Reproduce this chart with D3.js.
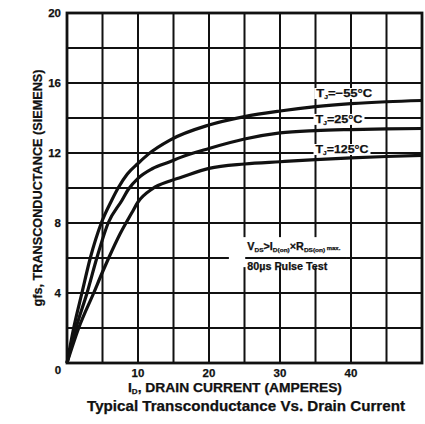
<!DOCTYPE html>
<html>
<head>
<meta charset="utf-8">
<script src="https://cdn.jsdelivr.net/npm/d3@7"></script>
<style>
  html, body { margin: 0; padding: 0; background: #fff; }
  svg { display: block; font-family: "Liberation Sans", Arial, Helvetica, sans-serif; font-weight: bold; }
  text { stroke: #111; stroke-width: 0.25px; }
</style>
</head>
<body>
<svg id="chart" width="425" height="424"></svg>
<script>
// ---- data ----
const xTickValues = [10, 20, 30, 40];
const yTickValues = [4, 8, 12, 16, 20];
const xGridValues = [5, 10, 15, 20, 25, 30, 35, 40, 45];
const yGridValues = [2, 4, 6, 8, 10, 12, 14, 16, 18];

const currentMinus55 = [0, 0.94, 2.1, 3.28, 4.83, 6.3, 7.2, 8.5, 10, 11.5, 14.5, 20, 25, 30, 35, 40, 45, 50];
const gfsMinus55     = [0, 2, 4, 6, 8, 9.3, 10, 10.8, 11.4, 11.95, 12.74, 13.6, 14.08, 14.4, 14.65, 14.82, 14.93, 15.0];

const current25 = [0, 1.27, 2.82, 4.2, 5.8, 7.75, 8.6, 10, 12, 14.5, 16, 20, 25, 30, 35, 40, 45, 50];
const gfs25     = [0, 2, 4, 6, 8, 9.3, 9.9, 10.55, 11.1, 11.5, 11.75, 12.26, 12.8, 13.15, 13.28, 13.34, 13.38, 13.4];

const current125 = [0, 1.65, 3.76, 5, 5.87, 7.5, 9.15, 10, 12, 14.5, 16, 20, 25, 30, 35, 40, 45, 50];
const gfs125     = [0, 2, 4, 5.2, 6, 7.4, 8.6, 9.2, 9.95, 10.4, 10.6, 11.12, 11.37, 11.5, 11.62, 11.72, 11.8, 11.86];

const seriesLabels = ["-55", "25", "125"];

// ---- layout ----
const svg = d3.select("#chart");
const plotL = 67, plotR = 422, plotT = 13, plotB = 363;
const x = d3.scaleLinear().domain([0, 50]).range([plotL, plotR]);
const y = d3.scaleLinear().domain([0, 20]).range([plotB, plotT]);
const ink = "#111";

// grid
svg.append("g").selectAll("line").data(xGridValues).join("line")
  .attr("x1", d => x(d)).attr("x2", d => x(d))
  .attr("y1", plotT).attr("y2", plotB)
  .attr("stroke", ink).attr("stroke-width", 2);
svg.append("g").selectAll("line").data(yGridValues).join("line")
  .attr("y1", d => y(d)).attr("y2", d => y(d))
  .attr("x1", plotL).attr("x2", plotR)
  .attr("stroke", ink).attr("stroke-width", 2);

// frame
svg.append("rect")
  .attr("x", plotL).attr("y", plotT)
  .attr("width", plotR - plotL).attr("height", plotB - plotT)
  .attr("fill", "none").attr("stroke", ink).attr("stroke-width", 2.8);

// curves
const line = d3.line().x(d => x(d[0])).y(d => y(d[1])).curve(d3.curveMonotoneX);
const series = [
  d3.zip(currentMinus55, gfsMinus55),
  d3.zip(current25, gfs25),
  d3.zip(current125, gfs125)
];
svg.append("g").selectAll("path").data(series).join("path")
  .attr("d", line)
  .attr("fill", "none").attr("stroke", ink).attr("stroke-width", 3.2)
  .attr("stroke-linejoin", "round");

// curve labels (with white backing)
const labelPos = [
  {xv: 35.1, yv: 15.2, w: 56},
  {xv: 35.0, yv: 13.72, w: 47},
  {xv: 35.0, yv: 12.0, w: 53}
];
seriesLabels.forEach((t, i) => {
  const p = labelPos[i];
  const g = svg.append("g");
  const txt = g.append("text")
    .attr("x", x(p.xv)).attr("y", y(p.yv))
    .attr("font-size", 11.5).attr("fill", ink)
    .attr("textLength", p.w).attr("lengthAdjust", "spacingAndGlyphs");
  txt.append("tspan").text("T");
  txt.append("tspan").text("J").attr("font-size", 6).attr("dy", 2);
  txt.append("tspan").text("=" + (t.startsWith("-") ? "\u2212" + t.slice(1) : t) + "\u00B0C").attr("dy", -2);
  const bb = txt.node().getBBox();
  g.insert("rect", "text")
    .attr("x", bb.x - 2).attr("y", bb.y + 1)
    .attr("width", bb.width + 4).attr("height", bb.height - 2)
    .attr("fill", "#fff");
});

// test-condition note with white box and fraction bar
svg.append("rect")
  .attr("x", x(22.8)).attr("y", y(6.45) - 13)
  .attr("width", x(39.3) - x(22.8)).attr("height", 30)
  .attr("fill", "#fff");
svg.append("line")
  .attr("x1", x(25.1)).attr("x2", x(39.3))
  .attr("y1", y(6)).attr("y2", y(6))
  .attr("stroke", ink).attr("stroke-width", 2);
const note1 = svg.append("text").attr("x", x(25.4)).attr("y", y(6.45))
  .attr("font-size", 10).attr("fill", ink)
  .attr("textLength", 93).attr("lengthAdjust", "spacingAndGlyphs");
note1.append("tspan").text("V");
note1.append("tspan").text("DS").attr("font-size", 6).attr("dy", 1.5);
note1.append("tspan").text(">I").attr("dy", -1.5);
note1.append("tspan").text("D(on)").attr("font-size", 6).attr("dy", 1.5);
note1.append("tspan").text("\u00D7R").attr("dy", -1.5);
note1.append("tspan").text("DS(on)").attr("font-size", 6).attr("dy", 1.5);
note1.append("tspan").text(" max.").attr("font-size", 5.5).attr("dy", -1.5);
svg.append("text").attr("x", x(25.4)).attr("y", y(5.3))
  .attr("font-size", 10).attr("fill", ink)
  .attr("textLength", 80).attr("lengthAdjust", "spacingAndGlyphs")
  .text("80\u00B5s Pulse Test");

// axis tick labels
svg.append("g").selectAll("text").data(yTickValues).join("text")
  .attr("x", 61).attr("y", d => y(d) + 4)
  .attr("text-anchor", "end").attr("font-size", 11.5).attr("fill", ink)
  .text(d => d);
svg.append("g").selectAll("text").data(xTickValues).join("text")
  .attr("x", d => x(d)).attr("y", plotB + 14)
  .attr("text-anchor", "middle").attr("font-size", 11.5).attr("fill", ink)
  .text(d => d);
svg.append("text").attr("x", 58).attr("y", plotB + 11)
  .attr("text-anchor", "middle").attr("font-size", 11.5).attr("fill", ink).text("0");

// axis titles
const xt = svg.append("text").attr("x", 128).attr("y", plotB + 29)
  .attr("font-size", 12).attr("fill", ink)
  .attr("textLength", 214).attr("lengthAdjust", "spacingAndGlyphs");
xt.append("tspan").text("I");
xt.append("tspan").text("D").attr("font-size", 7).attr("dy", 1.5);
xt.append("tspan").text(", DRAIN CURRENT (AMPERES)").attr("dy", -1.5);

svg.append("text")
  .attr("transform", "translate(42,188) rotate(-90)")
  .attr("text-anchor", "middle").attr("font-size", 12).attr("fill", ink)
  .attr("textLength", 237).attr("lengthAdjust", "spacingAndGlyphs")
  .text("gfs, TRANSCONDUCTANCE (SIEMENS)");

// chart title
svg.append("text").attr("x", 246).attr("y", plotB + 48)
  .attr("text-anchor", "middle").attr("font-size", 14).attr("fill", ink)
  .attr("textLength", 318).attr("lengthAdjust", "spacingAndGlyphs")
  .text("Typical Transconductance Vs. Drain Current");
</script>
</body>
</html>
